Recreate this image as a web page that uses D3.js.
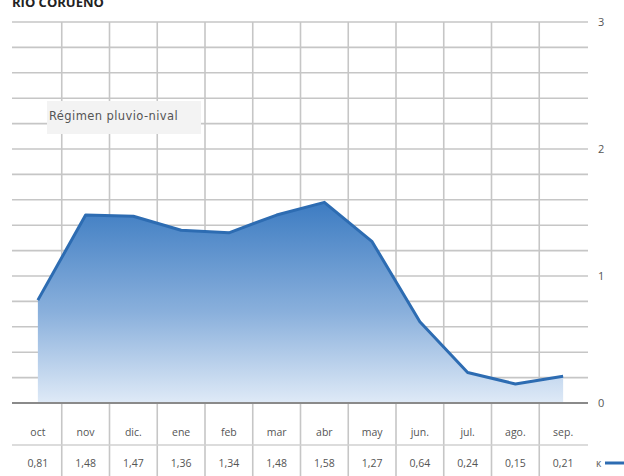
<!DOCTYPE html>
<html>
<head>
<meta charset="utf-8">
<script src="https://cdn.jsdelivr.net/npm/d3@7"></script>
<style>
  html, body { margin: 0; padding: 0; background: #fff; }
  svg { display: block; }
</style>
</head>
<body>
<svg id="chart" width="624" height="476"></svg>
<script>
// Monthly flow coefficients, Río Corueño (hydrological year Oct–Sep)
const months = ["oct", "nov", "dic.", "ene", "feb", "mar", "abr", "may", "jun.", "jul.", "ago.", "sep."];
const coefficients = [0.81, 1.48, 1.47, 1.36, 1.34, 1.48, 1.58, 1.27, 0.64, 0.24, 0.15, 0.21];
const axisTicks = [0, 1, 2, 3];
const title = "RÍO CORUEÑO";
const regimeLabel = "Régimen pluvio-nival";

const svg = d3.select("#chart");
const font = "'Open Sans', 'DejaVu Sans', sans-serif";

const x = d3.scaleBand().domain(months).range([14, 587]).padding(0);
const y = d3.scaleLinear().domain([0, 3]).range([403, 22]);
const gridLeft = 12, gridRight = 588;
const xc = d => x(d) + x.bandwidth() / 2;

const es = d3.formatLocale({ decimal: ",", thousands: ".", grouping: [3], currency: ["", "€"] });
const fmt = es.format(".2f");

// gradient for the area fill
const defs = svg.append("defs");
const grad = defs.append("linearGradient")
  .attr("id", "flowFill").attr("x1", 0).attr("y1", 0).attr("x2", 0).attr("y2", 1);
grad.append("stop").attr("offset", "0%").attr("stop-color", "#3d7cc2");
grad.append("stop").attr("offset", "55%").attr("stop-color", "#8ab0dc");
grad.append("stop").attr("offset", "100%").attr("stop-color", "#dfeaf7");

// horizontal grid every 0.2
const gridVals = d3.range(1, 16).map(i => i * 0.2);
svg.append("g").selectAll("line").data(gridVals).join("line")
  .attr("x1", gridLeft).attr("x2", gridRight)
  .attr("y1", d => y(d)).attr("y2", d => y(d))
  .attr("stroke", "#c6c6c6").attr("stroke-width", 1.6);

// vertical separators between months, running through the table
svg.append("g").selectAll("line").data(months.slice(1)).join("line")
  .attr("x1", d => x(d)).attr("x2", d => x(d))
  .attr("y1", y(3)).attr("y2", 476)
  .attr("stroke", "#c6c6c6").attr("stroke-width", 1.6);

// area + line
const area = d3.area()
  .x((d, i) => xc(months[i]))
  .y0(y(0))
  .y1(d => y(d));
const line = d3.line()
  .x((d, i) => xc(months[i]))
  .y(d => y(d));

svg.append("path").datum(coefficients)
  .attr("d", area)
  .attr("fill", "url(#flowFill)");

svg.append("path").datum(coefficients)
  .attr("d", line)
  .attr("fill", "none")
  .attr("stroke", "#2d6cb2")
  .attr("stroke-width", 3)
  .attr("stroke-linejoin", "round");

// zero baseline
svg.append("line")
  .attr("x1", gridLeft).attr("x2", gridRight)
  .attr("y1", y(0)).attr("y2", y(0))
  .attr("stroke", "#8a8a8a").attr("stroke-width", 2);

// separator between month row and value row
svg.append("line")
  .attr("x1", gridLeft).attr("x2", gridRight)
  .attr("y1", 445).attr("y2", 445)
  .attr("stroke", "#d0d0d0").attr("stroke-width", 1.4);

// right-hand axis labels
svg.append("g").selectAll("text").data(axisTicks).join("text")
  .attr("x", 598).attr("y", d => y(d) + 4)
  .attr("font-family", font).attr("font-size", 11)
  .attr("fill", "#555")
  .text(d => d);

// month row
svg.append("g").selectAll("text").data(months).join("text")
  .attr("x", d => xc(d)).attr("y", 436)
  .attr("text-anchor", "middle")
  .attr("font-family", font).attr("font-size", 10.5)
  .attr("fill", "#555")
  .text(d => d);

// value row
svg.append("g").selectAll("text").data(coefficients).join("text")
  .attr("x", (d, i) => xc(months[i])).attr("y", 467)
  .attr("text-anchor", "middle")
  .attr("font-family", font).attr("font-size", 10.5)
  .attr("fill", "#555")
  .text(d => fmt(d));

// legend key
svg.append("text")
  .attr("x", 596).attr("y", 467)
  .attr("font-family", font).attr("font-size", 10)
  .attr("fill", "#666")
  .text("κ");
svg.append("line")
  .attr("x1", 605).attr("x2", 624)
  .attr("y1", 463).attr("y2", 463)
  .attr("stroke", "#2d6cb2").attr("stroke-width", 3);

// regime label box
const box = svg.append("g");
box.append("rect")
  .attr("x", 47).attr("y", 101).attr("width", 154).attr("height", 33)
  .attr("fill", "#f3f3f3");
box.append("text")
  .attr("x", 49).attr("y", 120)
  .attr("font-family", "'DejaVu Sans', sans-serif").attr("font-size", 11.5)
  .attr("letter-spacing", 0.4)
  .attr("fill", "#555")
  .text(regimeLabel);

// title (partly above the top edge)
svg.append("text")
  .attr("x", 12).attr("y", 7)
  .attr("font-family", font).attr("font-size", 13).attr("font-weight", "bold")
  .attr("fill", "#222")
  .text(title);
</script>
</body>
</html>
